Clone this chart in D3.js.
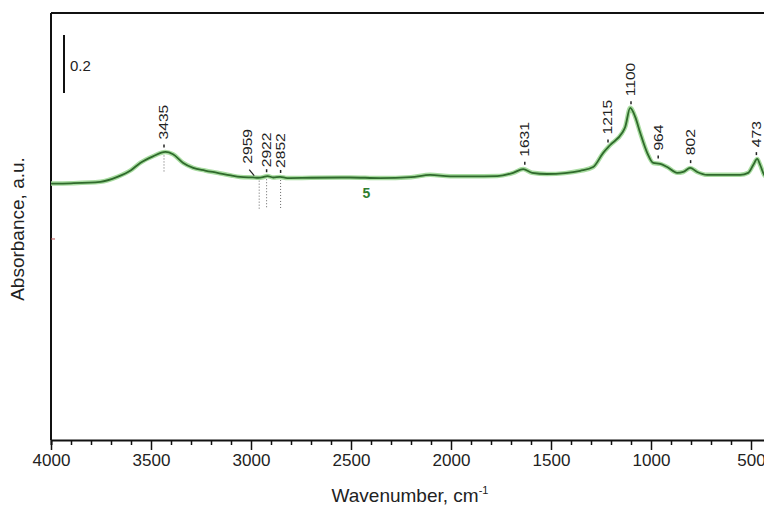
<!DOCTYPE html>
<html>
<head>
<meta charset="utf-8">
<script src="https://cdn.jsdelivr.net/npm/d3@7"></script>
<style>
  body { margin: 0; background: #fff; }
  svg { display: block; font-family: "Liberation Sans", Arial, sans-serif; }
</style>
</head>
<body>
<div id="chart"></div>
<script>
// Spectrum 5: wavenumber (cm-1) and absorbance (a.u.)
const wavenumbers = [4000, 3900, 3753, 3668, 3600, 3554, 3490, 3428, 3390, 3339, 3289, 3230, 3168, 3100, 3054, 2990,
  2964, 2940, 2918, 2889, 2854, 2819, 2700, 2504, 2354, 2200, 2104, 2004, 1900, 1769, 1689, 1639, 1594, 1520,
  1430, 1354, 1289, 1239, 1204, 1144, 1129, 1104, 1079, 1054, 1019, 989, 954, 919, 869, 839, 804, 769, 719, 619,
  554, 514, 489, 469, 454, 434, 400];
const absorbance = [0.884, 0.885, 0.890, 0.907, 0.930, 0.955, 0.978, 0.993, 0.985, 0.955, 0.938, 0.929, 0.921, 0.912, 0.907, 0.905,
  0.904, 0.906, 0.910, 0.905, 0.907, 0.903, 0.904, 0.905, 0.903, 0.906, 0.914, 0.909, 0.909, 0.910, 0.921, 0.934, 0.921, 0.917,
  0.920, 0.928, 0.941, 0.990, 1.017, 1.059, 1.079, 1.145, 1.114, 1.059, 0.990, 0.955, 0.952, 0.941, 0.921, 0.924, 0.938, 0.924, 0.914, 0.914,
  0.914, 0.921, 0.948, 0.969, 0.948, 0.914, 0.897];

// Marked peaks
const peaks = [3435, 2959, 2922, 2852, 1631, 1215, 1100, 964, 802, 473];
const dottedPeaks = [3435, 2959, 2922, 2852];
const xTicks = [4000, 3500, 3000, 2500, 2000, 1500, 1000, 500];
const seriesLabel = "5";
const scaleBar = 0.2;

const width = 764, height = 511;
const margin = { top: 13, left: 51, bottom: 71 };

const svg = d3.select('#chart').append('svg')
  .attr('width', width)
  .attr('height', height);

// 500 cm-1 per 100 px, absorbance 0.2 per 58 px
const x = d3.scaleLinear().domain([4000, 400]).range([margin.left, margin.left + 720]);
const y = d3.scaleLinear().domain([0, 1.472]).range([height - margin.bottom, margin.top]);

svg.append('defs').append('clipPath').attr('id', 'plot')
  .append('rect')
  .attr('x', margin.left).attr('y', margin.top)
  .attr('width', width - margin.left).attr('height', height - margin.bottom - margin.top);

const points = wavenumbers.map((w, i) => [w, absorbance[i]]);

// Linear lookup of the curve, only used to place the peak labels
function curveAt(w) {
  for (let i = 0; i < points.length - 1; i++) {
    const a = points[i], b = points[i + 1];
    if (w <= a[0] && w >= b[0]) {
      const t = (a[0] - w) / (a[0] - b[0]);
      return a[1] + t * (b[1] - a[1]);
    }
  }
  return points[points.length - 1][1];
}

// Frame
const frame = svg.append('g').attr('stroke', '#111').attr('stroke-width', 2).attr('fill', 'none');
frame.append('line').attr('x1', margin.left).attr('x2', width).attr('y1', margin.top).attr('y2', margin.top);
frame.append('line').attr('x1', margin.left).attr('x2', margin.left).attr('y1', margin.top).attr('y2', y(0));

// X axis
const xAxis = d3.axisBottom(x)
  .tickValues(d3.range(4000, 399, -100))
  .tickSize(5)
  .tickFormat(d => xTicks.includes(d) ? d : '');
const gx = svg.append('g')
  .attr('transform', `translate(0,${y(0)})`)
  .call(xAxis);
gx.select('.domain').attr('stroke', '#111').attr('stroke-width', 2);
gx.selectAll('.tick line').attr('stroke', '#111').attr('stroke-width', 1.5)
  .attr('y2', d => xTicks.includes(d) ? 10 : 5);
gx.selectAll('.tick text')
  .attr('y', 14)
  .attr('fill', '#222')
  .style('font-size', '17px');

// small tick on the left axis
svg.append('line')
  .attr('x1', margin.left).attr('x2', margin.left + 4)
  .attr('y1', y(0.693)).attr('y2', y(0.693))
  .attr('stroke', '#b55').attr('stroke-width', 1);

// Axis titles
const xt = svg.append('text')
  .attr('x', 410).attr('y', 502)
  .attr('text-anchor', 'middle')
  .attr('fill', '#222')
  .style('font-size', '19px')
  .text('Wavenumber, cm');
xt.append('tspan').attr('dy', -8).style('font-size', '11px').text('-1');

svg.append('text')
  .attr('transform', `translate(24,${229}) rotate(-90)`)
  .attr('text-anchor', 'middle')
  .attr('fill', '#222')
  .style('font-size', '19px')
  .text('Absorbance, a.u.');

// Scale bar
const barTop = 35;
svg.append('line')
  .attr('x1', 64).attr('x2', 64)
  .attr('y1', barTop).attr('y2', barTop + (y(0) - y(scaleBar)))
  .attr('stroke', '#111').attr('stroke-width', 2);
svg.append('text')
  .attr('x', 70).attr('y', 71)
  .attr('fill', '#222')
  .style('font-size', '15px')
  .text(scaleBar);

// Dotted guide lines
svg.append('g').selectAll('line')
  .data(dottedPeaks)
  .join('line')
  .attr('x1', d => x(d)).attr('x2', d => x(d))
  .attr('y1', d => y(curveAt(d)))
  .attr('y2', d => y(curveAt(d)) + (d === 3435 ? 19 : 31))
  .attr('stroke', '#666').attr('stroke-width', 1)
  .attr('stroke-dasharray', '1,2');

// Spectrum line
const line = d3.line()
  .x(d => x(d[0]))
  .y(d => y(d[1]))
  .curve(d3.curveMonotoneX);

const plot = svg.append('g').attr('clip-path', 'url(#plot)');
plot.append('path')
  .datum(points)
  .attr('d', line)
  .attr('fill', 'none')
  .attr('stroke', '#a8dca0')
  .attr('stroke-width', 4.5);
plot.append('path')
  .datum(points)
  .attr('d', line)
  .attr('fill', 'none')
  .attr('stroke', '#2f6a2c')
  .attr('stroke-width', 1.8);

// Peak labels (text is drawn a bit stretched along its length, as in the source)
const close = [2959, 2922, 2852];
const lab = svg.append('g');
peaks.forEach(p => {
  const cy = y(curveAt(p));
  const tight = close.includes(p);
  const gap = tight ? 9 : 13;
  const dx = p === 2959 ? -12 : 0;
  const px = x(p) + dx;
  if (p === 2959) {
    lab.append('line')
      .attr('x1', x(p) - 5).attr('y1', cy - 2)
      .attr('x2', x(p) - 10).attr('y2', cy - 8)
      .attr('stroke', '#222').attr('stroke-width', 1.2);
  } else {
    lab.append('line')
      .attr('x1', x(p)).attr('x2', x(p))
      .attr('y1', cy - (tight ? 7 : 8)).attr('y2', cy - (tight ? 4 : 5))
      .attr('stroke', '#222').attr('stroke-width', 1.5);
  }
  lab.append('text')
    .attr('transform', `translate(${px},${cy - (p === 2959 ? 14 : gap)}) rotate(-90) scale(1.3,1)`)
    .attr('dy', '0.36em')
    .attr('fill', '#222')
    .style('font-size', '12px')
    .text(p);
});

// Series number
svg.append('text')
  .attr('x', x(2423)).attr('y', y(curveAt(2423)) + 20)
  .attr('text-anchor', 'middle')
  .attr('fill', '#2e7d2e')
  .style('font-size', '14px')
  .style('font-weight', 'bold')
  .text(seriesLabel);
</script>
</body>
</html>
